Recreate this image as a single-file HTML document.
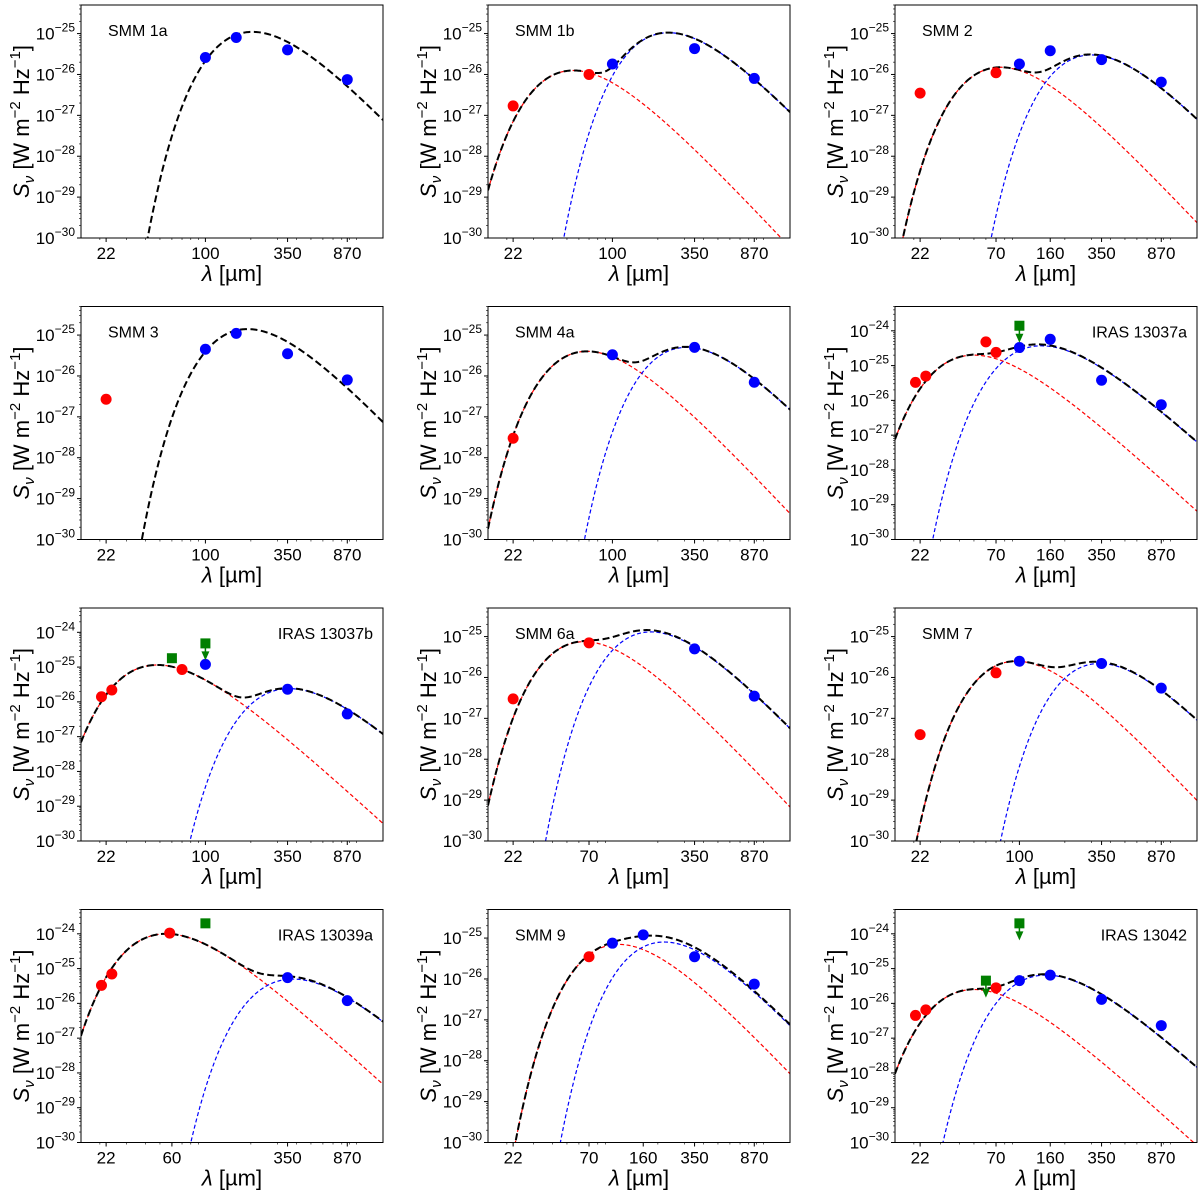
<!DOCTYPE html>
<html><head><meta charset="utf-8"><style>
html,body{margin:0;padding:0;background:#fff;}
svg{display:block;font-family:"Liberation Sans","DejaVu Sans",sans-serif;}
</style></head><body>
<svg id="fig" width="1200" height="1193" viewBox="0 0 1200 1193"></svg>
<script>
// ---- data (per panel) ----
const titles=["SMM 1a","SMM 1b","SMM 2","SMM 3","SMM 4a","IRAS 13037a","IRAS 13037b","SMM 6a","SMM 7","IRAS 13039a","SMM 9","IRAS 13042"];
const yTopExp=[-25,-25,-25,-25,-25,-24,-24,-25,-25,-24,-25,-24];
const xTickSets=[[22,100,350,870],[22,100,350,870],[22,70,160,350,870],[22,100,350,870],[22,100,350,870],[22,70,160,350,870],[22,100,350,870],[22,70,350,870],[22,100,350,870],[22,60,350,870],[22,70,160,350,870],[22,70,160,350,870]];
const redPts=[[],[[22,1.7e-27],[70,1e-26]],[[22,3.5e-27],[70,1.1e-26]],[[22,2.7e-27]],[[22,3e-28]],[[20.5,3.3e-26],[24,5e-26],[60,4.8e-25],[70,2.4e-25]],[[20.5,1.4e-26],[24,2.2e-26],[70,8.5e-26]],[[22,3e-27],[70,7e-26]],[[22,4e-28],[70,1.3e-26]],[[20.5,3.3e-26],[24,7e-26],[58,1.05e-24]],[[70,3.5e-26]],[[20.5,4.5e-27],[24,6.5e-27],[70,2.8e-26]]];
const bluePts=[[[100,2.6e-26],[160,8e-26],[350,4e-26],[870,7.5e-27]],[[100,1.8e-26],[350,4.3e-26],[870,8e-27]],[[100,1.8e-26],[160,3.8e-26],[350,2.3e-26],[870,6.5e-27]],[[100,4.5e-26],[160,1.1e-25],[350,3.5e-26],[870,8e-27]],[[100,3.3e-26],[350,5e-26],[870,7e-27]],[[100,3.3e-25],[160,5.7e-25],[350,3.8e-26],[870,7.5e-27]],[[100,1.2e-25],[350,2.3e-26],[870,4.5e-27]],[[350,5e-26],[870,3.5e-27]],[[100,2.5e-26],[350,2.2e-26],[870,5.5e-27]],[[350,5.5e-26],[870,1.2e-26]],[[100,7.5e-26],[160,1.2e-25],[350,3.5e-26],[870,7.5e-27]],[[100,4.5e-26],[160,6.5e-26],[350,1.3e-26],[870,2.3e-27]]];
// green: [lambda, flux, isUpperLimit]
const greenPts=[[],[],[],[],[],[[100,1.4e-24,1]],[[60,1.8e-25,0],[100,4.8e-25,1]],[],[],[[100,2e-24,0]],[],[[60,4.5e-26,1],[100,2e-24,1]]];
// components: [peak wavelength (um), peak flux]
const warmComp=[null,[55,1.25e-26],[75,1.5e-26],null,[68,4e-26],[50,2e-25],[48,1.15e-25],[65,7.5e-26],[95,2.5e-26],[55,1e-24],[110,7e-26],[50,2.5e-26]];
const coldComp=[[205,1.1e-25],[235,1.05e-25],[300,3e-26],[190,1.4e-25],[310,5e-26],[140,3.7e-25],[360,2.4e-26],[180,1.3e-25],[340,2.2e-26],[380,5e-26],[220,8e-26],[150,6.5e-26]];

const NS="http://www.w3.org/2000/svg";
const svg=document.getElementById('fig');
const W=302,H=233;
const colX=[81,488,895],rowY=[5,306.5,608,909.5];
function mk(tag,attrs,parent){const e=document.createElementNS(NS,tag);for(const k in attrs)e.setAttribute(k,attrs[k]);(parent||svg).appendChild(e);return e;}
function g(r){const x=4.965/r;if(x>600)return 0;return Math.pow(x,5)/(Math.exp(x)-1)/21.19;}
function comp(c,l){return c?c[1]*g(l/c[0]):0;}

for(let i=0;i<12;i++){
  const Lx=colX[i%3],Ty=rowY[Math.floor(i/3)];
  const ymaxL=yTopExp[i]+Math.log10(5);
  const xs=l=>Lx+(Math.log10(l)-Math.log10(15))/2*W;
  const ys=s=>Ty+(ymaxL-Math.log10(s))/(ymaxL+30)*H;
  const grp=mk('g',{});
  
  
  const cid='clip'+i;
  const cp=mk('clipPath',{id:cid},grp);mk('rect',{x:Lx,y:Ty,width:W,height:H},cp);
  const plot=mk('g',{'clip-path':'url(#'+cid+')'},grp);
  function path(fn,stroke,sw,dash,name){
    let d='';let started=false;
    for(let k=0;k<=300;k++){const l=15*Math.pow(100,k/300);const v=fn(l);
      if(!(v>0)){started=false;continue;}
      let y=ys(v);if(y>Ty+H+40)y=Ty+H+40;
      d+=(started?'L':'M')+xs(l).toFixed(2)+','+y.toFixed(2);started=true;}
    const p=mk('path',{d:d,fill:'none',stroke:stroke,'stroke-width':sw,'stroke-dasharray':dash},plot);
    
    
  }
  if(warmComp[i]){
    path(l=>comp(warmComp[i],l),'#ff0000',1.2,'4,2.5','warm-component-curve');
    path(l=>comp(coldComp[i],l),'#0000ff',1.2,'4,2.5','cold-component-curve');
  }
  path(l=>comp(warmComp[i],l)+comp(coldComp[i],l),'#000',2,'7,3.5','total-model-curve');
  redPts[i].forEach(p=>{const c=mk('circle',{cx:xs(p[0]),cy:ys(p[1]),r:5.5,fill:'#ff0000'},plot);
    });
  bluePts[i].forEach(p=>{const c=mk('circle',{cx:xs(p[0]),cy:ys(p[1]),r:5.5,fill:'#0000ff'},plot);
    });
  greenPts[i].forEach(p=>{const x=xs(p[0]),y=ys(p[1]);
    const r=mk('rect',{x:x-5,y:y-5,width:10,height:10,fill:'#007f00'},plot);
    
    if(p[2]){mk('line',{x1:x,y1:y,x2:x,y2:y+12,stroke:'#007f00','stroke-width':1.5},plot);
      mk('path',{d:`M${x-4},${y+8}L${x+4},${y+8}L${x},${y+17}Z`,fill:'#007f00'},plot);}
  });
  const fr=mk('rect',{x:Lx,y:Ty,width:W,height:H,fill:'none',stroke:'#000','stroke-width':1},grp);
  
  for(let e=-30;e<=yTopExp[i];e++){const y=ys(Math.pow(10,e));
    mk('line',{x1:Lx-4,y1:y,x2:Lx,y2:y,stroke:'#000','stroke-width':1},grp);
    const t=mk('text',{x:Lx-6,y:y+6,'text-anchor':'end','font-size':17},grp);
    
    t.appendChild(document.createTextNode('10'));
    const s=mk('tspan',{dy:-8,'font-size':12},t);s.textContent='\u2212'+(-e);
    for(let m=2;m<=9;m++){const ym=ys(m*Math.pow(10,e));if(ym<Ty)break;
      mk('line',{x1:Lx-2,y1:ym,x2:Lx,y2:ym,stroke:'#000','stroke-width':0.6},grp);}
  }
  [20,30,40,50,60,70,80,90,200,300,400,500,600,700,800,900,1000].forEach(l=>{const x=xs(l);
    mk('line',{x1:x,y1:Ty+H,x2:x,y2:Ty+H+2,stroke:'#000','stroke-width':0.6},grp);});
  xTickSets[i].forEach(l=>{const x=xs(l);
    mk('line',{x1:x,y1:Ty+H,x2:x,y2:Ty+H+4,stroke:'#000','stroke-width':1},grp);
    const t=mk('text',{x:x,y:Ty+H+21,'text-anchor':'middle','font-size':17},grp);
    t.textContent=l;});
  const xl=mk('text',{x:Lx+W/2,y:Ty+H+43,'text-anchor':'middle','font-size':22},grp);
  
  const li=mk('tspan',{'font-style':'italic'},xl);li.textContent='\u03bb';
  xl.appendChild(document.createTextNode(' [\u00b5m]'));
  const yl=mk('text',{x:0,y:0,'text-anchor':'middle','font-size':22,transform:`translate(${Lx-52},${Ty+H/2}) rotate(-90)`},grp);
  
  const sI=mk('tspan',{'font-style':'italic'},yl);sI.textContent='S';
  const sub=mk('tspan',{dy:5,'font-size':15,'font-style':'italic'},yl);sub.textContent='\u03bd';
  const r1=mk('tspan',{dy:-5},yl);r1.textContent=' [W m';
  const s1=mk('tspan',{dy:-9,'font-size':15},yl);s1.textContent='\u22122';
  const r2=mk('tspan',{dy:9},yl);r2.textContent=' Hz';
  const s2=mk('tspan',{dy:-9,'font-size':15},yl);s2.textContent='\u22121';
  const r3=mk('tspan',{dy:9},yl);r3.textContent=']';
  const right=titles[i].startsWith('IRAS');
  const tt=mk('text',{x:right?Lx+W-10:Lx+27,y:Ty+31,'text-anchor':right?'end':'start','font-size':16},grp);
  tt.textContent=titles[i];
}
</script>
</body></html>
